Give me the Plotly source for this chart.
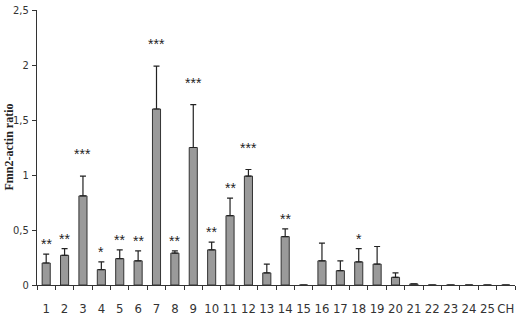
import plotly.graph_objects as go

categories = [str(i) for i in range(1, 26)] + ["CH"]
values = [0.20, 0.27, 0.81, 0.14, 0.24, 0.22, 1.60, 0.29, 1.25, 0.32, 0.63, 0.99,
          0.11, 0.44, 0.0, 0.22, 0.13, 0.21, 0.19, 0.07, 0.01, 0, 0, 0, 0, 0]
errors = [0.08, 0.06, 0.18, 0.07, 0.08, 0.09, 0.39, 0.02, 0.39, 0.07, 0.16, 0.06,
          0.08, 0.07, 0.0, 0.16, 0.09, 0.12, 0.16, 0.04, 0.0, 0, 0, 0, 0, 0]
stars = ["**", "**", "***", "*", "**", "**", "***", "**", "***", "**", "**", "***",
         "", "**", "", "", "", "*", "", "", "", "", "", "", "", ""]
ytick_vals = [0, 0.5, 1, 1.5, 2, 2.5]
ytick_text = ["0", "0,5", "1", "1,5", "2", "2,5"]
y_title = "Fmn2-actin ratio"

COND = "DejaVu Sans Condensed, Liberation Sans, sans-serif"

fig = go.Figure()
fig.add_trace(go.Bar(
    x=categories, y=values,
    marker=dict(color="#9a9a9a", line=dict(color="#333333", width=1)),
    error_y=dict(type="data", array=errors, arrayminus=[0] * len(errors),
                 symmetric=False, color="#222222", thickness=1.2, width=3),
))

for i, (v, e, s) in enumerate(zip(values, errors, stars)):
    if not s:
        continue
    fig.add_annotation(x=i, xref="x", y=v + e, text=s, showarrow=False, yanchor="bottom",
                       yshift=12 if s == "***" else 0,
                       font=dict(family="Liberation Sans, Arial, sans-serif", size=14, color="#222222"))

# y-axis title as rotated annotation
fig.add_annotation(xref="paper", yref="paper", x=-29 / 478, y=0.5, text="<b>" + y_title + "</b>",
                   textangle=-90, showarrow=False, xanchor="center", yanchor="middle",
                   font=dict(family="Liberation Serif, Times New Roman, serif", size=12, color="#222222"))

fig.update_layout(
    width=520, height=317,
    margin=dict(l=37, r=5, t=10, b=32),
    plot_bgcolor="white", paper_bgcolor="white",
    bargap=0.56, showlegend=False,
    font=dict(family="Liberation Sans, Arial, sans-serif", size=12, color="#333333"),
)
fig.update_xaxes(
    type="category", showline=True, linecolor="#333333", linewidth=1,
    ticks="outside", ticklen=4, tickcolor="#333333", tickson="boundaries",
    showgrid=False, ticklabelstandoff=11, tickangle=0, automargin=False,
    tickfont=dict(family=COND, size=13, color="#333333"),
)
fig.update_yaxes(
    range=[0, 2.5], tickvals=ytick_vals, ticktext=ytick_text,
    showline=True, linecolor="#333333", linewidth=1, automargin=False,
    ticks="outside", ticklen=4, tickcolor="#333333", showgrid=False, zeroline=False,
    ticklabelstandoff=1,
    tickfont=dict(family=COND, size=11, color="#333333"),
)

fig.write_html("out.html", config={"displayModeBar": False},
               post_script="document.body.style.margin='0';")
